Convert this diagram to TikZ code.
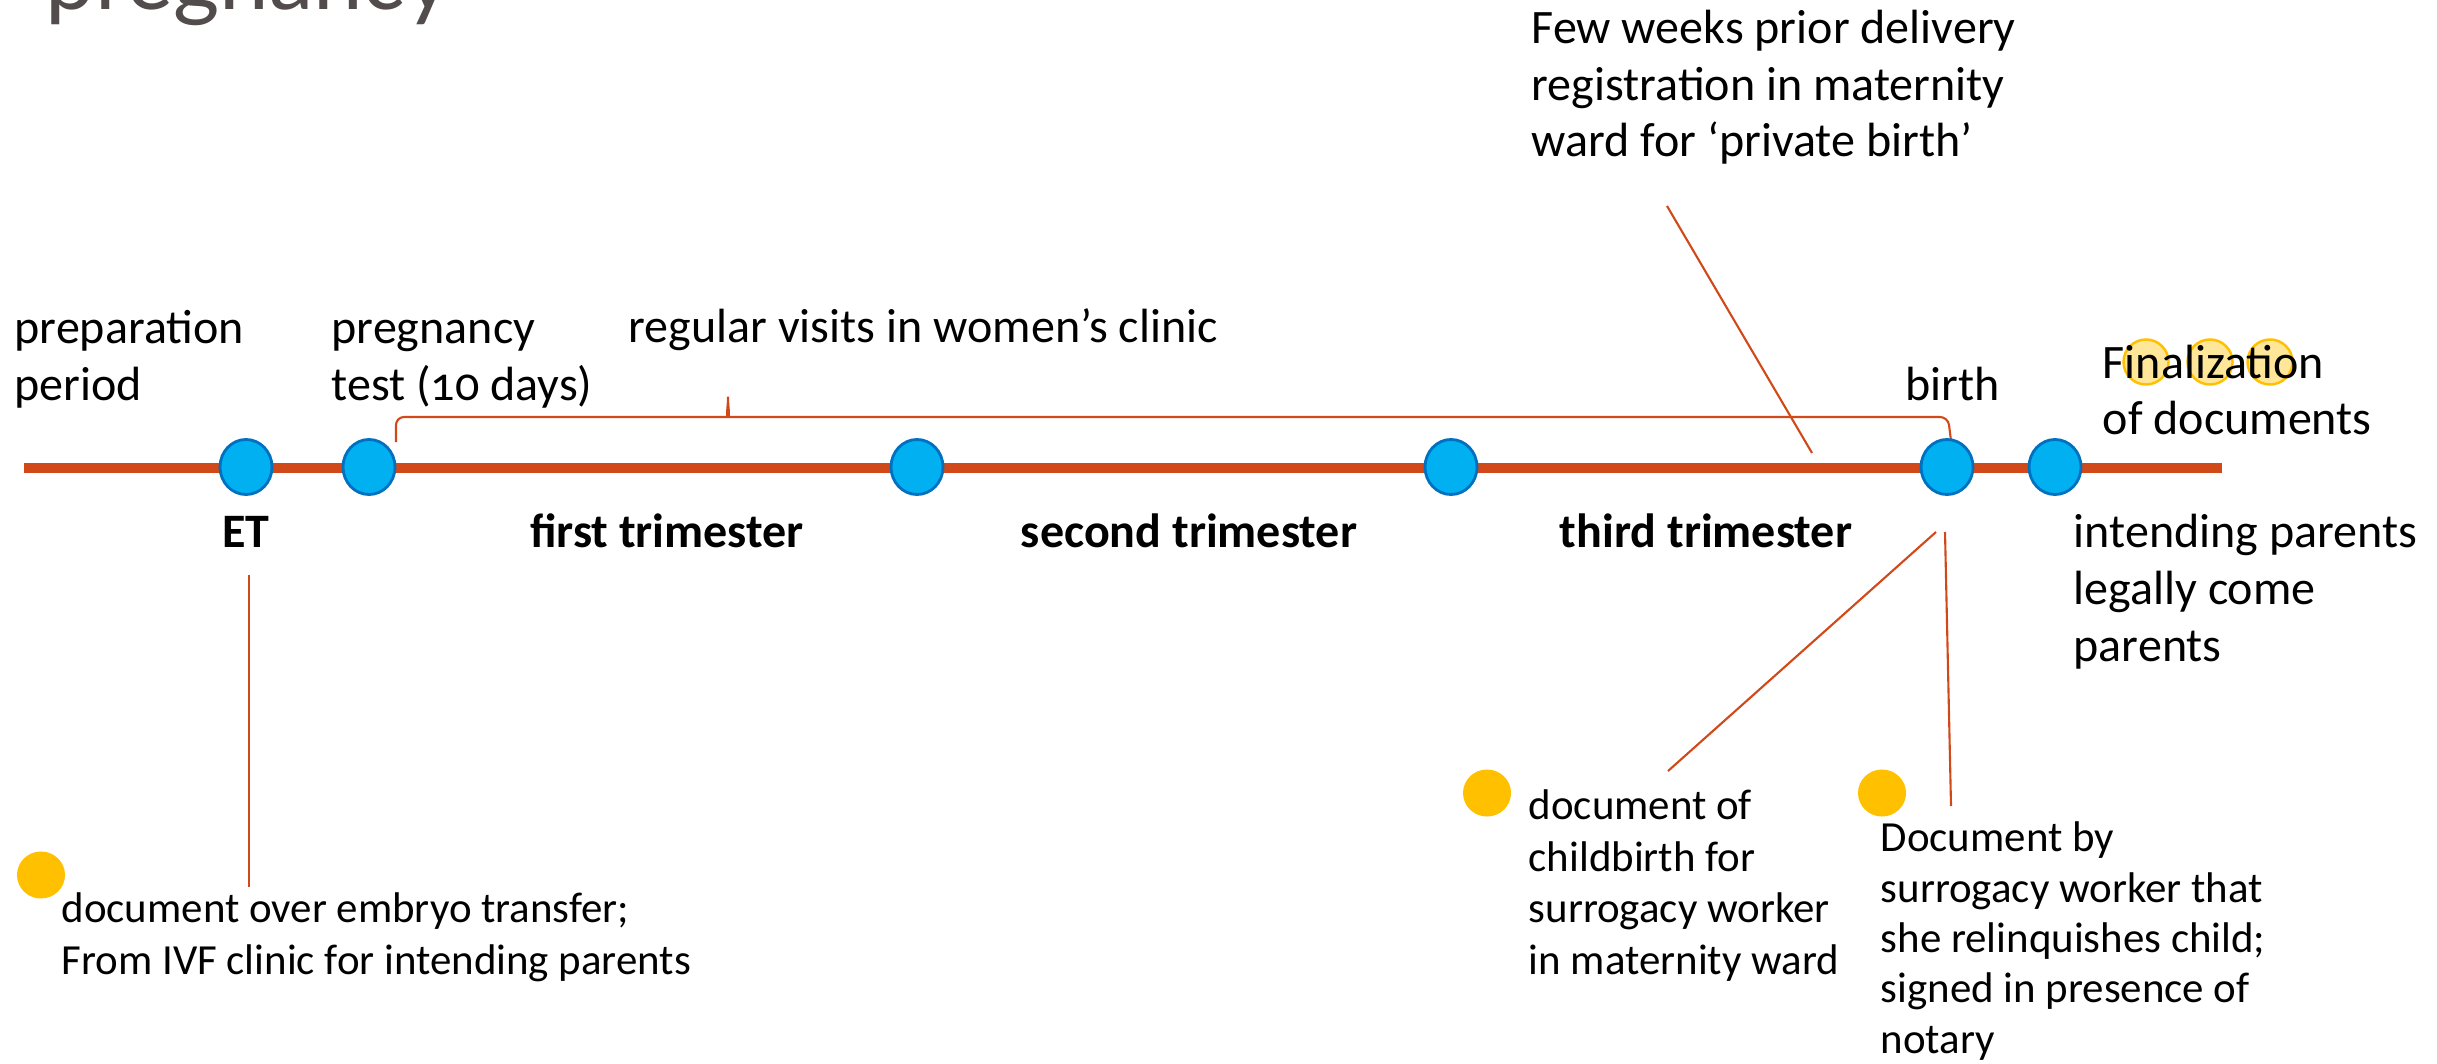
\documentclass[tikz,border=0pt]{standalone}
\usepackage{fontspec}
\setmainfont[Numbers=OldStyle]{Carlito}
\newfontfamily\titlefont{Lato}
\usetikzlibrary{shapes.geometric}
\definecolor{tline}{RGB}{209,73,24}
\definecolor{dotblue}{RGB}{0,176,240}
\definecolor{dotedge}{RGB}{0,112,192}
\definecolor{gold}{RGB}{255,192,0}
\definecolor{paleyellow}{RGB}{255,230,153}
\definecolor{titlegray}{RGB}{82,76,76}
\begin{document}
\begin{tikzpicture}[x=0.01cm,y=-0.01cm,
  evt/.style={ellipse, draw=dotedge, fill=dotblue, line width=0.8pt, inner sep=0pt, minimum width=0.52cm, minimum height=0.55cm},
  golddot/.style={ellipse, fill=gold, inner sep=0pt, minimum width=0.48cm, minimum height=0.47cm},
  palecirc/.style={circle, draw=gold, fill=paleyellow, line width=0.7pt, inner sep=0pt, minimum size=0.45cm},
  lbl/.style={anchor=base west, inner sep=0pt, align=left, font=\fontsize{13.66}{16.2}\selectfont},
  bold/.style={anchor=base, inner sep=0pt, font=\fontsize{13.66}{16.2}\selectfont\bfseries},
  small/.style={anchor=base west, inner sep=0pt, align=left, font=\fontsize{12.2}{14.6}\selectfont},
  conn/.style={draw=tline, line width=0.6pt},
  timeline/.style={draw=tline, line width=3.1pt}]
\useasboundingbox (0,0) rectangle (2437,1064);

% title (cut at top)
\node[anchor=base west, inner sep=0pt, text=titlegray, font=\titlefont\fontsize{25.3}{30}\selectfont] (title) at (45,10) {pregnancy};

% timeline
\coordinate (tlstart) at (24,468);
\coordinate (tlend) at (2222,468);
\draw[timeline] (tlstart) -- (tlend);

% brace
\coordinate (brL) at (396,442);
\coordinate (brR) at (1951,441);
\draw[conn, rounded corners=0.08cm] (brL) -- (396,417) -- (720,417) .. controls (726,417) and (728,404) .. (728,392) .. controls (728,404) and (730,417) .. (736,417) -- (1948,417) -- (brR);

% events
\node[evt] (et) at (246,467) {};
\node[evt] (ptest) at (369,467) {};
\node[evt] (m1) at (917,467) {};
\node[evt] (m2) at (1451,467) {};
\node[evt] (birthdot) at (1947,467) {};
\node[evt] (finaldot) at (2055,467) {};

% labels above (base anchor = baseline of last line)
\node[lbl] (prep) at (14,400) {preparation\\period};
\node[lbl] (preg) at (331,400) {pregnancy\\test (10 days)};
\node[lbl] (regular) at (628,343) {regular visits in women’s clinic};
\node[lbl] (birth) at (1905,400) {birth};
\node[palecirc] (pc1) at (2146,362) {};
\node[palecirc] (pc2) at (2210,362) {};
\node[palecirc] (pc3) at (2270,362) {};
\node[lbl] (final) at (2102,435) {Finalization\\of documents};
\node[lbl] (fewweeks) at (1531,157) {Few weeks prior delivery\\registration in maternity\\ward for ‘private birth’};

% labels below
\node[bold] (etlbl) at (246,547) {ET};
\node[bold] (tri1) at (667,547) {first trimester};
\node[bold] (tri2) at (1189,547) {second trimester};
\node[bold] (tri3) at (1706,547) {third trimester};
\node[lbl] (intending) at (2073,661) {intending parents\\legally come\\parents};

% documents
\node[golddot] (gd1) at (41,875) {};
\node[golddot] (gd2) at (1487,793) {};
\node[golddot] (gd3) at (1882,793) {};
\node[small] (docet) at (61,974) {document over embryo transfer;\\From IVF clinic for intending parents};
\node[small] (docbirth) at (1528,974) {document of\\childbirth for\\surrogacy worker\\in maternity ward};
\node[small, font=\fontsize{12.2}{14.3}\selectfont] (docrel) at (1880,1053) {Document by\\surrogacy worker that\\she relinquishes child;\\signed in presence of\\notary};

% connectors
\coordinate (fwA) at (1667,206);
\coordinate (fwB) at (1812,453);
\draw[conn] (fwA) -- (fwB);
\coordinate (etA) at (249,575);
\coordinate (etB) at (249,887);
\draw[conn] (etA) -- (etB);
\coordinate (bA) at (1936,532);
\coordinate (bB) at (1668,771);
\draw[conn] (bA) -- (bB);
\coordinate (cA) at (1945,532);
\coordinate (cB) at (1951,806);
\draw[conn] (cA) -- (cB);
\end{tikzpicture}
\end{document}
